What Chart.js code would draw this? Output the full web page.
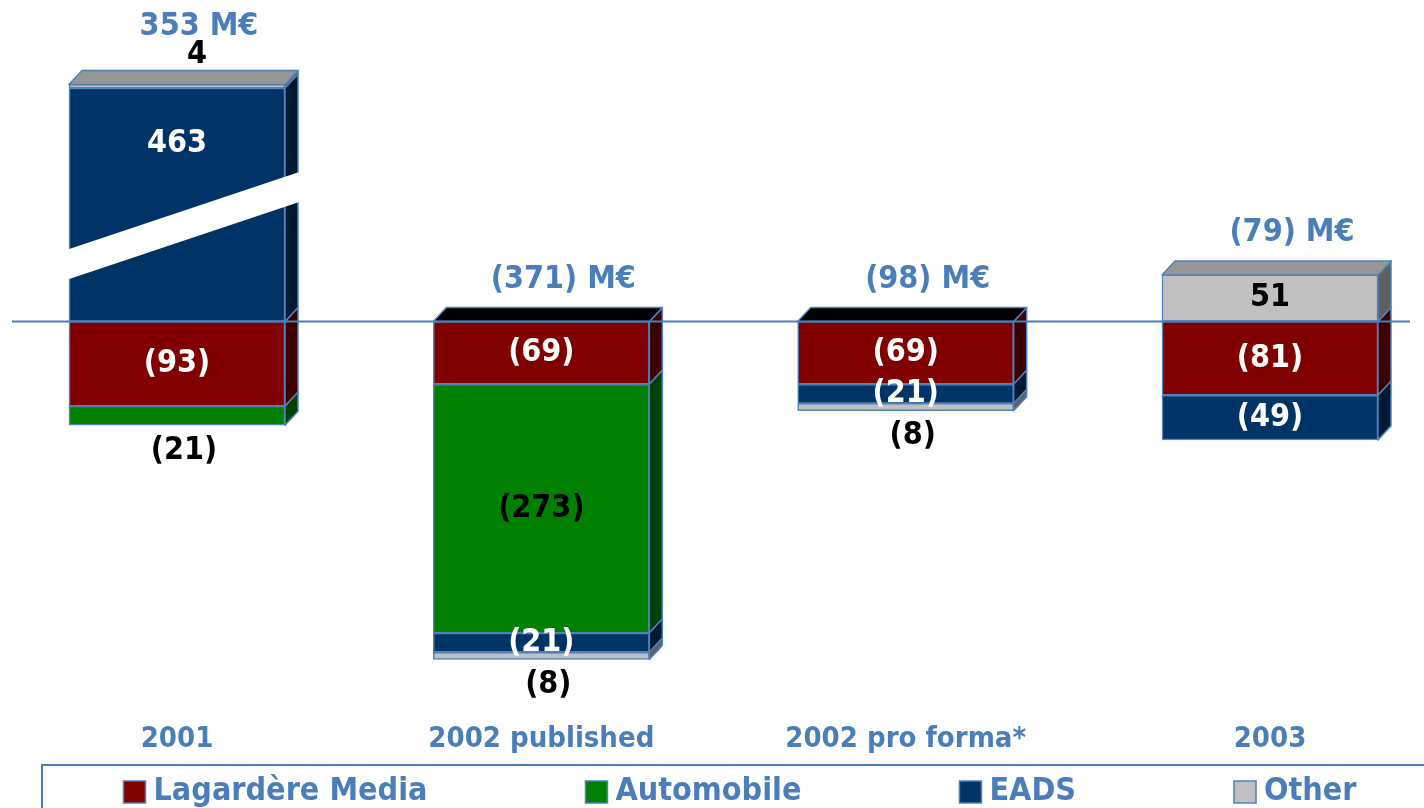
<!DOCTYPE html>
<html>
<head>
<meta charset="utf-8">
<script src="https://cdn.jsdelivr.net/npm/chart.js@4"></script>
<style>
  html, body { margin: 0; padding: 0; background: #fff; }
  canvas { display: block; }
</style>
</head>
<body>
<canvas id="chart" width="1424" height="808"></canvas>
<script>
// values in M€, negatives shown in brackets
const categories = ['2001', '2002 published', '2002 pro forma*', '2003'];
const lagardere = [-93, -69, -69, -81];
const automobile = [-21, -273, 0, 0];
const eads = [463, -21, -21, -49];
const other = [4, -8, -8, 51];

const seriesNames = ['Lagardère Media', 'Automobile', 'EADS', 'Other'];
const seriesValues = [lagardere, automobile, eads, other];

// the 2001 EADS bar is drawn with a broken axis
const breakAt = 105;
const breakGap = 207;
const plotValue = v => (v > breakAt ? v - breakGap : v);

const blue = '#4a7ebb';
const edge = '#4f81bd';
const font = '"DejaVu Sans Condensed", "DejaVu Sans"';
const frontColors = ['#800000', '#008000', '#003366', '#c0c0c0'];
const sideColors = ['#3d0000', '#004000', '#001a33', '#606060'];
const topColors = ['#5a0000', '#006000', '#00264d', '#969696'];
const insideText = ['#ffffff', '#000000', '#ffffff', '#000000'];
const dx = 13, dy = 14;

const fmt = v => (v < 0 ? '(' + Math.abs(v) + ')' : String(v));

function poly(ctx, pts, fill) {
  ctx.beginPath();
  ctx.moveTo(pts[0][0], pts[0][1]);
  for (let k = 1; k < pts.length; k++) ctx.lineTo(pts[k][0], pts[k][1]);
  ctx.closePath();
  ctx.fillStyle = fill;
  ctx.fill();
  ctx.stroke();
}

const barDecor = {
  id: 'barDecor',
  afterDatasetsDraw(chart) {
    const ctx = chart.ctx;
    const yScale = chart.scales.y;
    const zero = yScale.getPixelForValue(0);
    ctx.save();
    ctx.lineWidth = 1.5;
    ctx.strokeStyle = edge;
    ctx.lineJoin = 'round';

    const stackTops = [];
    const topOutside = [];
    for (let i = 0; i < categories.length; i++) {
      let best = null;
      seriesValues.forEach((vals, d) => {
        if (!vals[i]) return;
        const el = chart.getDatasetMeta(d).data[i];
        const left = el.x - el.width / 2, right = el.x + el.width / 2;
        const top = Math.min(el.y, el.base), bottom = Math.max(el.y, el.base);
        poly(ctx, [[right, top], [right + dx, top - dy], [right + dx, bottom - dy], [right, bottom]], sideColors[d]);
        if (!best || top < best.top) best = { left, right, top, d };
      });
      const positive = best.top < zero - 1;
      poly(ctx, [[best.left, best.top], [best.left + dx, best.top - dy], [best.right + dx, best.top - dy], [best.right, best.top]],
        positive ? topColors[best.d] : '#000000');
      stackTops[i] = best.top;
    }

    // axis break stripe
    seriesValues.forEach((vals, d) => {
      vals.forEach((v, i) => {
        if (v <= breakAt) return;
        const el = chart.getDatasetMeta(d).data[i];
        const c = yScale.getPixelForValue(breakAt);
        const l = el.x - el.width / 2 - 2, r = el.x + el.width / 2 + dx + 2;
        ctx.beginPath();
        ctx.moveTo(l, c + 39 - 15);
        ctx.lineTo(r, c - 39 - 15);
        ctx.lineTo(r, c - 39 + 15);
        ctx.lineTo(l, c + 39 + 15);
        ctx.closePath();
        ctx.fillStyle = '#ffffff';
        ctx.fill();
      });
    });

    // zero line
    ctx.beginPath();
    ctx.moveTo(12, zero);
    ctx.lineTo(1410, zero);
    ctx.lineWidth = 2;
    ctx.strokeStyle = blue;
    ctx.stroke();

    // segment labels
    ctx.font = 'bold 32px ' + font;
    ctx.textAlign = 'center';
    ctx.textBaseline = 'middle';
    seriesValues.forEach((vals, d) => {
      vals.forEach((v, i) => {
        if (!v) return;
        const el = chart.getDatasetMeta(d).data[i];
        const top = Math.min(el.y, el.base), bottom = Math.max(el.y, el.base);
        const outer = !seriesValues.some((w, e) => e > d && w[i] && Math.sign(w[i]) === Math.sign(v));
        let x = el.x, y;
        if (outer && bottom - top < 26) {
          ctx.fillStyle = '#000000';
          if (v < 0) { y = bottom + 25; x += 7; }
          else { y = top - 30; x += 20; topOutside[i] = true; }
        } else {
          ctx.fillStyle = insideText[d];
          y = v > breakAt ? top + 56 : (top + bottom) / 2;
        }
        ctx.fillText(fmt(v), x, y);
      });
    });

    // totals
    ctx.fillStyle = blue;
    categories.forEach((c, i) => {
      const total = seriesValues.reduce((s, vals) => s + vals[i], 0);
      const x = chart.getDatasetMeta(0).data[i].x + 22;
      const y = stackTops[i] - (topOutside[i] ? 58 : 42);
      ctx.fillText(fmt(total) + ' M€', x, y);
    });
    ctx.restore();
  }
};

const boxLegend = {
  id: 'boxLegend',
  afterDraw(chart) {
    const ctx = chart.ctx;
    ctx.save();
    ctx.lineWidth = 2;
    ctx.strokeStyle = blue;
    ctx.strokeRect(42, 765, 1424, 100);
    ctx.font = 'bold 32px ' + font;
    ctx.textBaseline = 'middle';
    ctx.textAlign = 'left';
    const box = 22, gap = 8, spacing = 158;
    const widths = chart.data.datasets.map(ds => ctx.measureText(ds.label).width);
    const total = widths.reduce((s, w) => s + box + gap + w, 0) + spacing * (widths.length - 1);
    let x = 740 - total / 2;
    const cy = 792;
    chart.data.datasets.forEach((ds, d) => {
      ctx.fillStyle = ds.backgroundColor;
      ctx.fillRect(x, cy - box / 2, box, box);
      ctx.lineWidth = 1.5;
      ctx.strokeStyle = edge;
      ctx.strokeRect(x, cy - box / 2, box, box);
      ctx.fillStyle = blue;
      ctx.fillText(ds.label, x + box + gap, cy);
      x += box + gap + widths[d] + spacing;
    });
    ctx.restore();
  }
};

new Chart(document.getElementById('chart').getContext('2d'), {
  type: 'bar',
  data: {
    labels: categories,
    datasets: seriesNames.map((name, d) => ({
      label: name,
      data: seriesValues[d].map(plotValue),
      backgroundColor: frontColors[d],
      borderColor: edge,
      borderWidth: 1.5,
      borderSkipped: false,
      barThickness: 216,
      clip: false
    }))
  },
  options: {
    responsive: false,
    animation: false,
    layout: { padding: { left: 177, right: 154, top: 48, bottom: 12 } },
    plugins: {
      legend: { display: false },
      tooltip: { enabled: false }
    },
    scales: {
      x: {
        stacked: true,
        offset: false,
        grid: { display: false, drawTicks: false },
        border: { display: false },
        ticks: {
          color: blue,
          padding: 39,
          font: { family: font, size: 29, weight: 'bold' }
        }
      },
      y: {
        stacked: true,
        display: false,
        min: -397,
        max: 300
      }
    }
  },
  plugins: [barDecor, boxLegend]
});
</script>
</body>
</html>
